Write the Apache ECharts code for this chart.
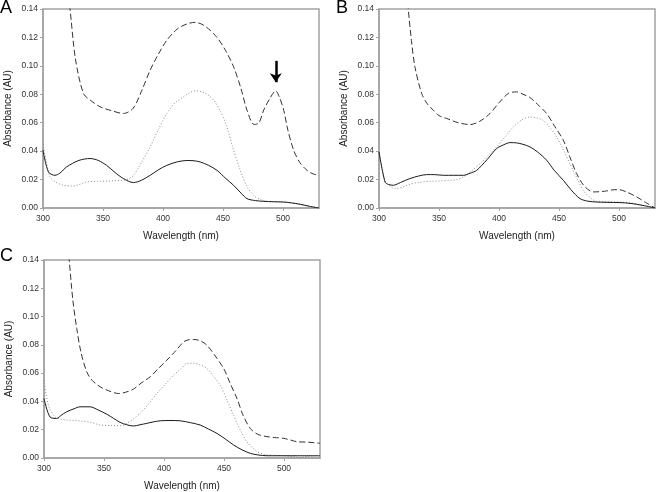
<!DOCTYPE html>
<html>
<head>
<meta charset="utf-8">
<script src="https://cdn.jsdelivr.net/npm/echarts@6/dist/echarts.min.js"></script>
<style>html,body{margin:0;padding:0;background:#fff}#c{width:656px;height:492px}</style>
</head>
<body>
<div id="c"></div>
<script>
// Panel A
var aDashX = [300, 306, 313, 318, 322.5, 327, 333.7, 340, 347.6, 357, 367, 375, 382, 389.3, 396, 403.2, 412, 420, 426.8, 435, 445, 452, 458.8, 465, 470, 476, 480, 484, 489, 493.9, 497, 500.6, 504, 508.9, 514, 520, 525, 530];
var aDashY = [0.30, 0.25, 0.20, 0.17, 0.14, 0.105, 0.0806, 0.0755, 0.0712, 0.0685, 0.0665, 0.070, 0.082, 0.097, 0.108, 0.118, 0.126, 0.1295, 0.1306, 0.128, 0.120, 0.111, 0.0994, 0.084, 0.0688, 0.0587, 0.060, 0.069, 0.077, 0.0824, 0.078, 0.0688, 0.055, 0.0406, 0.032, 0.0265, 0.024, 0.023];
var aDotX = [300, 305.8, 311, 317, 325.3, 336.4, 347.6, 356, 364.3, 370, 375.4, 382, 389.3, 396, 403.2, 410, 417.1, 422, 426.8, 435, 442.1, 448, 453.2, 458, 464.4, 470, 475.5, 481, 486.6, 493, 500.6, 510, 520, 530];
var aDotY = [0.045, 0.022, 0.018, 0.016, 0.0155, 0.0183, 0.0188, 0.019, 0.0195, 0.020, 0.023, 0.032, 0.043, 0.055, 0.0665, 0.074, 0.0782, 0.081, 0.0824, 0.081, 0.0759, 0.068, 0.0571, 0.043, 0.0265, 0.015, 0.0089, 0.006, 0.0047, 0.0044, 0.0042, 0.0033, 0.0015, 0.0];
var aSolX = [300, 304.5, 310, 314, 319.7, 330, 339.2, 346, 353, 360, 367, 375.4, 382, 389.3, 396, 403.2, 412, 419.9, 425, 431, 438, 445, 452, 458.8, 465, 470, 477, 483.9, 492, 500.6, 507, 514.5, 522, 530];
var aSolY = [0.0406, 0.0254, 0.023, 0.0245, 0.0289, 0.0335, 0.0348, 0.0335, 0.030, 0.025, 0.0207, 0.0179, 0.0195, 0.023, 0.0268, 0.030, 0.0325, 0.0334, 0.0333, 0.0324, 0.030, 0.0265, 0.021, 0.016, 0.0105, 0.0066, 0.0052, 0.0047, 0.0044, 0.0042, 0.0036, 0.0026, 0.0012, 0.0];
// Panel B
var bDashX = [318, 322, 324.4, 327, 330, 335.6, 340, 345.3, 350, 356.4, 366, 375.8, 384, 392.5, 400, 407.8, 414.7, 420, 425.8, 432, 439.7, 446, 453.6, 459, 464.7, 471, 478.6, 484, 489.7, 495, 500, 507, 514.7, 522, 530];
var bDashY = [0.22, 0.165, 0.14, 0.118, 0.099, 0.0805, 0.0735, 0.0688, 0.065, 0.063, 0.060, 0.0587, 0.061, 0.0665, 0.074, 0.0806, 0.0817, 0.080, 0.0777, 0.073, 0.0665, 0.058, 0.0477, 0.036, 0.0242, 0.0155, 0.0113, 0.0115, 0.012, 0.0128, 0.0129, 0.011, 0.0078, 0.004, 0.0];
var bDotX = [300, 305, 309, 313.3, 319, 325.8, 333, 342.5, 350, 359.2, 365, 370.3, 377, 384.2, 391, 398, 405, 412, 419, 425.8, 431, 436.9, 442, 448, 453.6, 459, 465, 470.3, 476, 481.4, 490, 500.8, 510, 520, 530];
var bDotY = [0.0395, 0.0195, 0.0155, 0.0136, 0.0145, 0.0167, 0.018, 0.0188, 0.019, 0.0195, 0.020, 0.0218, 0.026, 0.0312, 0.037, 0.043, 0.050, 0.0571, 0.062, 0.064, 0.0635, 0.0617, 0.057, 0.050, 0.041, 0.0312, 0.021, 0.0124, 0.0072, 0.0047, 0.0043, 0.0042, 0.0035, 0.0018, 0.0];
var bSolX = [300, 305, 308, 312, 318, 325.8, 333, 339.7, 346, 353.6, 362, 370.3, 376, 381.4, 390, 398, 404, 409.2, 414.7, 420, 425.8, 432, 439.7, 446, 453.6, 460, 467.5, 474, 481.4, 490, 500.8, 510, 520, 530];
var bSolY = [0.0395, 0.0183, 0.0165, 0.016, 0.018, 0.0207, 0.0225, 0.0235, 0.0235, 0.023, 0.023, 0.023, 0.0245, 0.0265, 0.034, 0.0418, 0.0445, 0.046, 0.0458, 0.0448, 0.043, 0.0395, 0.0336, 0.0265, 0.0195, 0.0128, 0.0066, 0.0048, 0.0042, 0.004, 0.0038, 0.0032, 0.0018, 0.0];
// Panel C
var cDashX = [316, 319, 321, 324, 327.3, 331, 335.6, 340, 346.7, 354, 362, 368, 374.5, 381, 388.5, 395, 402.4, 410, 416.3, 420, 424.6, 430, 435.7, 442, 449.7, 455, 460.8, 466, 471.9, 478, 485.8, 492, 499.7, 505, 510.8, 520, 530];
var cDashY = [0.20, 0.16, 0.14, 0.112, 0.0915, 0.074, 0.061, 0.055, 0.0504, 0.0475, 0.0456, 0.0465, 0.0487, 0.053, 0.0574, 0.063, 0.0692, 0.076, 0.0821, 0.0835, 0.0838, 0.083, 0.0798, 0.073, 0.0633, 0.053, 0.0421, 0.030, 0.0209, 0.0168, 0.0151, 0.0145, 0.0139, 0.0128, 0.0115, 0.0112, 0.0104];
var cDotX = [300, 303.6, 309.2, 314, 318.9, 325, 332.8, 340, 346.7, 355, 363.4, 369, 375, 380, 387, 394, 401, 408, 414, 419, 424.6, 430, 435.7, 441, 446.8, 452, 457.9, 464, 469.1, 476, 483, 490, 499.7, 507, 513.6, 520, 530];
var cDotY = [0.055, 0.0374, 0.029, 0.0275, 0.0268, 0.0265, 0.026, 0.025, 0.0233, 0.023, 0.0228, 0.0245, 0.028, 0.0315, 0.038, 0.0456, 0.052, 0.0586, 0.063, 0.0668, 0.067, 0.066, 0.0633, 0.058, 0.0515, 0.042, 0.0303, 0.019, 0.0115, 0.0055, 0.0026, 0.002, 0.0016, 0.001, 0.0005, 0.0012, 0.0016];
var cSolX = [300, 305, 310.6, 314, 318.9, 325, 330, 338.4, 345, 352.3, 358, 363.4, 369, 374.5, 380, 385.7, 391, 396.8, 405, 413.5, 422, 430.2, 437, 444.1, 451, 458, 465, 471.9, 478, 485.8, 495, 510, 530];
var cSolY = [0.0421, 0.029, 0.028, 0.030, 0.0327, 0.0348, 0.0362, 0.0362, 0.034, 0.031, 0.028, 0.0252, 0.0235, 0.0226, 0.0235, 0.0245, 0.0255, 0.0263, 0.0265, 0.0263, 0.025, 0.0233, 0.0205, 0.0174, 0.0135, 0.0092, 0.0058, 0.0033, 0.0022, 0.0016, 0.0016, 0.0016, 0.0016];
// Arrow in panel A (wavelength, absorbance start/end)
var arrowX = 494;
var arrowY = [0.1035, 0.0885];
var panelLabels = ['A', 'B', 'C'];
var xName = 'Wavelength (nm)';
var yName = 'Absorbance (AU)';

function pairs(xs, ys) { return xs.map(function (x, i) { return [x, ys[i]]; }); }

var FONT = 'Liberation Sans';
var frameColor = '#a3a3a3';
var grids = [
  { left: 43, top: 9, width: 276, height: 199 },
  { left: 379, top: 9, width: 276, height: 199 },
  { left: 44, top: 260, width: 276, height: 198 }
];
grids.forEach(function (g) { g.show = true; g.borderColor = frameColor; g.borderWidth = 1.5; g.backgroundColor = 'transparent'; });

var xAxes = [], yAxes = [];
for (var i = 0; i < 3; i++) {
  xAxes.push({
    type: 'value', gridIndex: i, min: 300, max: 530, interval: 50,
    name: xName, nameLocation: 'middle', nameGap: 23,
    nameTextStyle: { fontFamily: FONT, fontSize: 10, color: '#222' },
    axisLine: { lineStyle: { color: frameColor, width: 1.5 } },
    axisTick: { length: 3, lineStyle: { color: frameColor } },
    axisLabel: { fontFamily: FONT, fontSize: 8.5, color: '#333', margin: 6, showMaxLabel: false,
      formatter: function (v) { return v % 50 === 0 ? String(v) : ''; } },
    splitLine: { show: false }
  });
  yAxes.push({
    type: 'value', gridIndex: i, min: 0, max: 0.14, interval: 0.02,
    name: yName, nameLocation: 'middle', nameGap: 30,
    nameTextStyle: { fontFamily: FONT, fontSize: 10, color: '#222' },
    axisLine: { show: true, lineStyle: { color: frameColor, width: 1.5 } },
    axisTick: { show: true, length: 3, lineStyle: { color: frameColor } },
    axisLabel: { fontFamily: FONT, fontSize: 8.5, color: '#333', margin: 5,
      formatter: function (v) { return v.toFixed(2); } },
    splitLine: { show: false }
  });
}

function mk(idx, xs, ys, kind, extra) {
  var style;
  if (kind === 'dash') style = { color: '#333', width: 1, type: [6, 3] };
  else if (kind === 'dot') style = { color: '#8a8a8a', width: 1, type: [1, 2] };
  else style = { color: '#1a1a1a', width: 1, type: 'solid' };
  var s = {
    type: 'line', xAxisIndex: idx, yAxisIndex: idx, data: pairs(xs, ys),
    showSymbol: false, smooth: 0.3, clip: true, lineStyle: style, silent: true, animation: false
  };
  if (extra) for (var k in extra) s[k] = extra[k];
  return s;
}

var series = [
  mk(0, aDashX, aDashY, 'dash', {
    markLine: {
      silent: true, animation: false, symbol: ['none', 'arrow'], symbolSize: [9, 9],
      label: { show: false },
      lineStyle: { color: '#000', width: 2.5, type: 'solid' },
      data: [[{ coord: [arrowX, arrowY[0]] }, { coord: [arrowX, arrowY[1]] }]]
    }
  }),
  mk(0, aDotX, aDotY, 'dot'),
  mk(0, aSolX, aSolY, 'sol'),
  mk(1, bDashX, bDashY, 'dash'),
  mk(1, bDotX, bDotY, 'dot'),
  mk(1, bSolX, bSolY, 'sol'),
  mk(2, cDashX, cDashY, 'dash'),
  mk(2, cDotX, cDotY, 'dot'),
  mk(2, cSolX, cSolY, 'sol')
];

var titlePos = [[0, -1], [336, -1], [0, 247]];
var titles = panelLabels.map(function (t, i) {
  return { text: t, left: titlePos[i][0], top: titlePos[i][1], padding: 0,
    textStyle: { fontFamily: FONT, fontSize: 18, fontWeight: 'normal', color: '#000' } };
});

var chart = echarts.init(document.getElementById('c'), null, { renderer: 'canvas' });
chart.setOption({
  animation: false,
  backgroundColor: '#fff',
  title: titles,
  grid: grids,
  xAxis: xAxes,
  yAxis: yAxes,
  series: series
});
</script>
</body>
</html>
